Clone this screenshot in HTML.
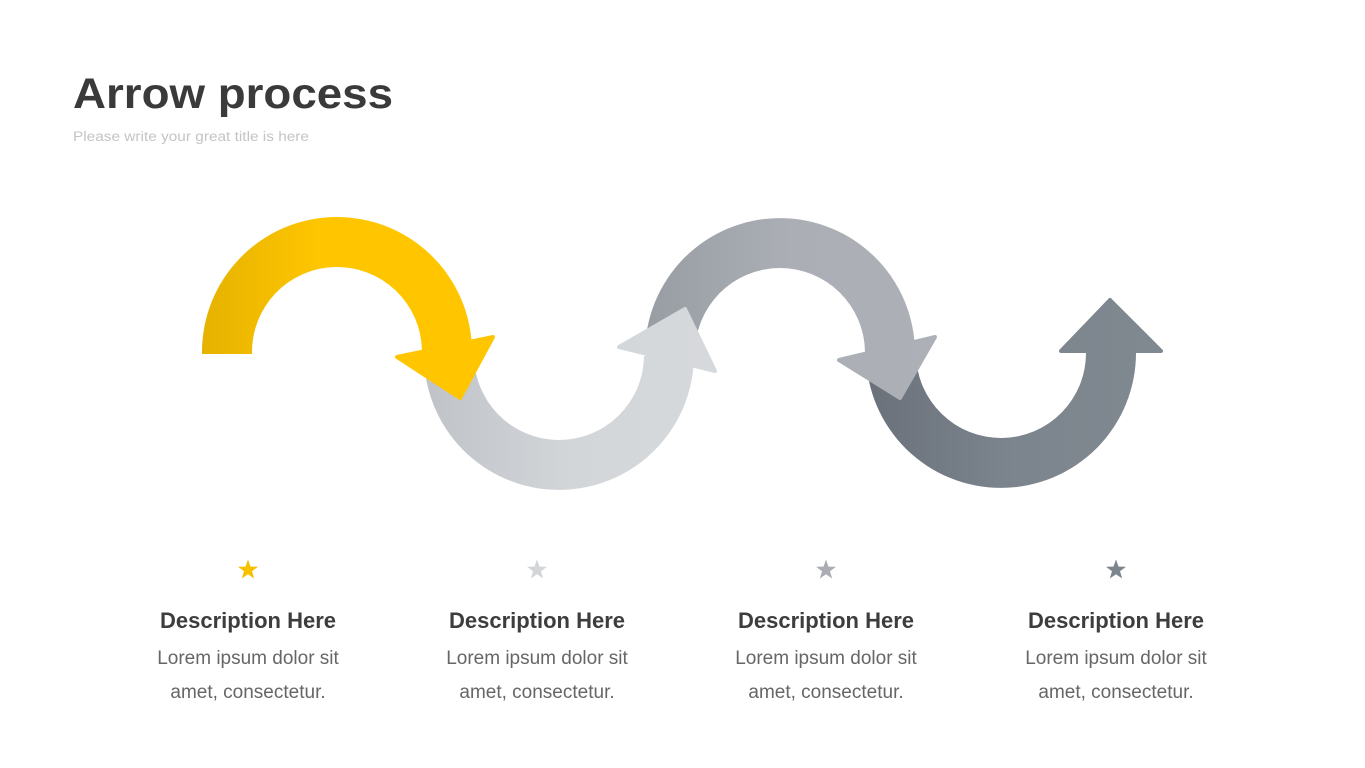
<!DOCTYPE html>
<html><head><meta charset="utf-8"><style>
html,body{margin:0;padding:0;background:#fff;}
svg{display:block;}
</style></head><body>
<svg width="1365" height="768" viewBox="0 0 1365 768" xmlns="http://www.w3.org/2000/svg">
<defs>
<linearGradient id="g1" x1="202" y1="0" x2="472" y2="0" gradientUnits="userSpaceOnUse"><stop offset="0" stop-color="#E6B200"/><stop offset="0.45" stop-color="#FFC600"/><stop offset="1" stop-color="#FFC600"/></linearGradient>
<linearGradient id="g2" x1="424" y1="0" x2="717" y2="0" gradientUnits="userSpaceOnUse"><stop offset="0" stop-color="#BFC2C7"/><stop offset="0.5" stop-color="#D3D6D9"/><stop offset="1" stop-color="#D6D9DC"/></linearGradient>
<linearGradient id="g3" x1="645" y1="0" x2="937" y2="0" gradientUnits="userSpaceOnUse"><stop offset="0" stop-color="#989DA4"/><stop offset="0.5" stop-color="#ABAFB5"/><stop offset="1" stop-color="#ADB1B7"/></linearGradient>
<linearGradient id="g4" x1="866" y1="0" x2="1163" y2="0" gradientUnits="userSpaceOnUse"><stop offset="0" stop-color="#6A717A"/><stop offset="0.5" stop-color="#7C848D"/><stop offset="1" stop-color="#808890"/></linearGradient>
<polygon id="star" points="0,-10.5 2.5,-3.4 10,-3.3 4,1.3 6.2,8.5 0,4.2 -6.2,8.5 -4,1.3 -10,-3.3 -2.5,-3.4"/>
</defs>
<text x="73" y="108" font-family="Liberation Sans, sans-serif" font-weight="bold" font-size="43" fill="#3a3a3a" textLength="320" lengthAdjust="spacingAndGlyphs">Arrow process</text>
<text x="73" y="141" font-family="Liberation Sans, sans-serif" font-size="13.5" fill="#c4c4c4" textLength="236" lengthAdjust="spacingAndGlyphs">Please write your great title is here</text>

<g fill="url(#g4)" stroke="url(#g4)" stroke-linejoin="round" stroke-width="4">
<path d="M866 354 A135 135 0 0 0 1136 352 L1086 352 A85 85 0 0 1 916 354 Z" stroke="none"/>
<polygon points="1061,351 1110,300 1161,351"/>
</g>
<g fill="url(#g3)" stroke="url(#g3)" stroke-linejoin="round" stroke-width="4">
<path d="M645 354 A135 135 0 0 1 915 352 L865 352 A85 85 0 0 0 695 354 Z" stroke="none"/>
<polygon points="839,360 935,337 900,398"/>
</g>
<g fill="url(#g2)" stroke="url(#g2)" stroke-linejoin="round" stroke-width="4">
<path d="M424 354 A135 135 0 0 0 694 356 L644 356 A85 85 0 0 1 474 354 Z" stroke="none"/>
<polygon points="619,347 685,309 715,371"/>
</g>
<g fill="url(#g1)" stroke="url(#g1)" stroke-linejoin="round" stroke-width="4">
<path d="M202 354 A135 135 0 0 1 472 350 L422 350 A85 85 0 0 0 252 354 Z" stroke="none"/>
<polygon points="397,357 493,337 460,398"/>
</g>

<use href="#star" x="248" y="570" fill="#F7C100"/>
<use href="#star" x="537" y="570" fill="#D3D6D9"/>
<use href="#star" x="826" y="570" fill="#AAAEB4"/>
<use href="#star" x="1116" y="570" fill="#7C848D"/>

<g font-family="Liberation Sans, sans-serif" text-anchor="middle">
<g font-size="22" font-weight="bold" fill="#3d3d3d">
<text x="248" y="628">Description Here</text>
<text x="537" y="628">Description Here</text>
<text x="826" y="628">Description Here</text>
<text x="1116" y="628">Description Here</text>
</g>
<g font-size="19" fill="#666">
<text x="248" y="664">Lorem ipsum dolor sit</text>
<text x="248" y="698">amet, consectetur.</text>
<text x="537" y="664">Lorem ipsum dolor sit</text>
<text x="537" y="698">amet, consectetur.</text>
<text x="826" y="664">Lorem ipsum dolor sit</text>
<text x="826" y="698">amet, consectetur.</text>
<text x="1116" y="664">Lorem ipsum dolor sit</text>
<text x="1116" y="698">amet, consectetur.</text>
</g>
</g>
</svg>
</body></html>
